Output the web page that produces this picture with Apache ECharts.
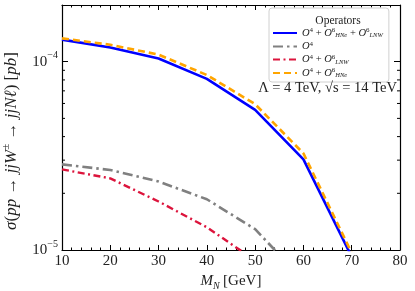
<!DOCTYPE html>
<html><head><meta charset="utf-8">
<script src="https://cdn.jsdelivr.net/npm/echarts@6/dist/echarts.min.js"></script>
<style>html,body{margin:0;padding:0;background:#fff}#c{width:415px;height:291px}</style>
</head><body><div id="c"></div>
<script>
const masses = [10, 20, 30, 40, 50, 60, 70];
const full = [1.31e-4, 1.19e-4, 1.04e-4, 8.1e-5, 5.55e-5, 3.03e-5, 9.2e-6];
const o4only = [2.85e-5, 2.66e-5, 2.31e-5, 1.86e-5, 1.29e-5, 6.9e-6];
const o4lnw = [2.68e-5, 2.40e-5, 1.81e-5, 1.32e-5, 8.8e-6];
const o4hne = [1.33e-4, 1.23e-4, 1.09e-4, 8.5e-5, 5.95e-5, 3.26e-5, 9.65e-6];
const xTicks = [10, 20, 30, 40, 50, 60, 70, 80];
const yMinor = [2e-5, 3e-5, 4e-5, 5e-5, 6e-5, 7e-5, 8e-5, 9e-5];
const names = ['full', 'O4', 'O4LNW', 'O4HNe'];

const FONT = '"Liberation Serif", "DejaVu Serif", serif';
const pairs = (ys) => ys.map((v, i) => [masses[i], v]);

const richMath = {
  t: {fontFamily: FONT, fontStyle: 'italic', fontSize: 10.5, lineHeight: 12, color: '#222'},
  r: {fontFamily: FONT, fontSize: 10.5, lineHeight: 12, color: '#222'},
  sp: {fontFamily: FONT, fontSize: 7, verticalAlign: 'top', lineHeight: 12, color: '#222'},
  sb: {fontFamily: FONT, fontStyle: 'italic', fontSize: 6.5, verticalAlign: 'bottom', lineHeight: 12, color: '#222'}
};
const labels = {
  full: '{t|O}{sp|4}{r| + }{t|O}{sp|6}{sb|HNe}{r| + }{t|O}{sp|6}{sb|LNW}',
  O4: '{t|O}{sp|4}',
  O4LNW: '{t|O}{sp|4}{r| + }{t|O}{sp|6}{sb|LNW}',
  O4HNe: '{t|O}{sp|4}{r| + }{t|O}{sp|6}{sb|HNe}'
};

const chart = echarts.init(document.getElementById('c'), null, {renderer: 'canvas'});
const axisCommon = {
  axisLine: {show: true, lineStyle: {color: '#000', width: 1.2}},
  splitLine: {show: false}
};
chart.setOption({
  animation: false,
  grid: {left: 62, right: 15, top: 5, bottom: 41, outerBoundsMode: 'none', containLabel: false},
  title: {text: 'Operators', left: 333, top: 10, textAlign: 'center',
    textStyle: {fontFamily: FONT, fontSize: 11.5, fontWeight: 'normal', color: '#222'}},
  legend: {
    data: names, orient: 'vertical', left: 269, top: 8,
    padding: [19, 6, 3, 3], itemGap: 1.5, itemWidth: 24, itemHeight: 11,
    backgroundColor: '#fff', borderColor: '#d0d0d0', borderWidth: 1, borderRadius: 3,
    itemStyle: {opacity: 0, borderWidth: 0},
    formatter: (n) => labels[n],
    textStyle: {rich: richMath}
  },
  xAxis: [
    Object.assign({type: 'value', min: 10, max: 80, interval: 10, position: 'bottom',
      name: '{i|M}{s|N} {r|[GeV]}', nameLocation: 'middle', nameGap: 21,
      nameTextStyle: {rich: {
        i: {fontFamily: FONT, fontStyle: 'italic', fontSize: 15, color: '#222', lineHeight: 20},
        s: {fontFamily: FONT, fontStyle: 'italic', fontSize: 10, color: '#222', verticalAlign: 'bottom', lineHeight: 20},
        r: {fontFamily: FONT, fontSize: 15, color: '#222', lineHeight: 20}}},
      axisTick: {show: true, inside: true, length: 5, lineStyle: {color: '#000'}},
      minorTick: {show: true, splitNumber: 5, length: 2.5, lineStyle: {color: '#000'}},
      axisLabel: {fontFamily: FONT, fontSize: 15, color: '#222', margin: 4,
        formatter: (v) => xTicks.includes(v) ? String(v) : ''}
    }, axisCommon),
    Object.assign({type: 'value', min: 10, max: 80, interval: 10, position: 'top',
      axisTick: {show: true, inside: true, length: 5, lineStyle: {color: '#000'}},
      minorTick: {show: true, splitNumber: 5, length: 2.5, lineStyle: {color: '#000'}},
      axisLabel: {show: false}}, axisCommon)
  ],
  yAxis: [
    Object.assign({type: 'log', logBase: 10, min: 1e-5, max: 2e-4, position: 'left',
      name: '{i|σ}{r|(}{i|pp}{r| → }{i|jjW}{sp|±}{r| → }{i|jjNℓ}{r|) [}{i|pb}{r|]}',
      nameLocation: 'middle', nameGap: 39,
      nameTextStyle: {padding: [0, 27, 0, 0], rich: {
        i: {fontFamily: FONT, fontStyle: 'italic', fontSize: 17, color: '#222', lineHeight: 22},
        r: {fontFamily: FONT, fontSize: 17, color: '#222', lineHeight: 22},
        sp: {fontFamily: FONT, fontSize: 11, color: '#222', verticalAlign: 'top', lineHeight: 22}}},
      axisTick: {show: true, inside: true, length: 6, lineStyle: {color: '#000'}},
      axisLabel: {margin: 4, color: '#222',
        formatter: (v) => {
          const e = Math.round(Math.log10(v));
          return Math.abs(Math.log10(v) - e) < 1e-6 ? '{b|10}{e|' + (e < 0 ? '−' + (-e) : e) + '}' : '';
        },
        rich: {
          b: {fontFamily: FONT, fontSize: 15, color: '#222', lineHeight: 22},
          e: {fontFamily: FONT, fontSize: 10, color: '#222', verticalAlign: 'top', lineHeight: 22}
        }}
    }, axisCommon),
    Object.assign({type: 'log', logBase: 10, min: 1e-5, max: 2e-4, position: 'right',
      axisTick: {show: true, inside: true, length: 6, lineStyle: {color: '#000'}},
      axisLabel: {show: false}}, axisCommon)
  ],
  graphic: [{
    type: 'text', right: 18, top: 81, z: 10,
    style: {text: 'Λ = 4 TeV, √s = 14 TeV', fontFamily: FONT, fontSize: 14.5, fill: '#222'}
  }],
  series: [
    {name: 'full', type: 'line', data: pairs(full), showSymbol: false, symbol: 'none', z: 3,
      lineStyle: {color: '#0000ff', width: 2.6}, itemStyle: {color: '#0000ff'}},
    {name: 'O4', type: 'line', data: pairs(o4only), showSymbol: false, symbol: 'none', z: 2,
      lineStyle: {color: '#808080', width: 2.6, type: [10, 4, 2.5, 4]}, itemStyle: {color: '#808080'}},
    {name: 'O4LNW', type: 'line', data: pairs(o4lnw), showSymbol: false, symbol: 'none', z: 2,
      lineStyle: {color: '#dc143c', width: 2.4, type: [7, 3.5, 2, 3.5]}, itemStyle: {color: '#dc143c'}},
    {name: 'O4HNe', type: 'line', data: pairs(o4hne), showSymbol: false, symbol: 'none', z: 4,
      lineStyle: {color: '#ffa500', width: 2.6, type: [7, 4]}, itemStyle: {color: '#ffa500'}},
    {name: 'yminor', type: 'custom', silent: true, z: 5,
      data: yMinor.map((v) => [10, v]),
      renderItem: (params, api) => {
        const p = api.coord([api.value(0), api.value(1)]);
        const cs = params.coordSys;
        const st = {stroke: '#000', lineWidth: 1};
        return {type: 'group', children: [
          {type: 'line', shape: {x1: cs.x, y1: p[1], x2: cs.x + 3, y2: p[1]}, style: st},
          {type: 'line', shape: {x1: cs.x + cs.width - 3, y1: p[1], x2: cs.x + cs.width, y2: p[1]}, style: st}
        ]};
      }}
  ]
});
</script></body></html>
